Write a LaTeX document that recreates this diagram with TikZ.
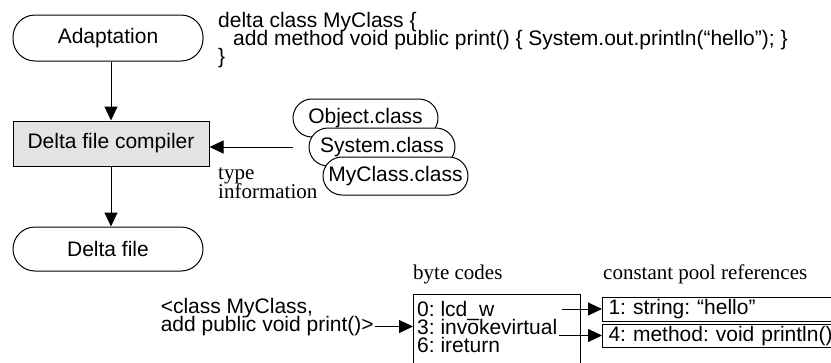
\documentclass[tikz,border=0pt]{standalone}
\usepackage{fontspec}
\setmainfont{Liberation Serif}
\setsansfont{Liberation Sans}
\usetikzlibrary{arrows.meta}
\begin{document}
\frenchspacing
\begin{tikzpicture}[x=1pt,y=-1pt,
  sf/.style={font=\sffamily\fontsize{21}{18}\selectfont\frenchspacing},
  rm/.style={font=\rmfamily\fontsize{21}{19}\selectfont\frenchspacing},
  lbl/.style={anchor=base west, inner sep=0pt},
  stadium/.style={draw, line width=1pt, rounded corners=22pt, minimum width=190pt, inner sep=0pt, sf},
  clsnode/.style={draw, line width=1pt, rounded corners=19pt, minimum height=38pt, inner sep=0pt, fill=white, sf},
  arr/.style={line width=1pt, -{Triangle[length=14pt,width=13pt]}},
  cpbox/.style={draw, line width=1pt, anchor=north west, text width=300pt, inner xsep=6pt, inner ysep=0pt, align=left, sf}
]
\path[use as bounding box] (0,0) rectangle (831,362);
\clip (0,0) rectangle (831,362);

% left flow
\node[stadium, minimum height=46pt] (adapt) at (108,38) {Adaptation};
\node[draw, line width=1pt, fill=black!11, minimum width=196pt, minimum height=45pt, inner sep=0pt, sf] (comp) at (111,143.5) {Delta file compiler};
\node[stadium, minimum height=44pt] (dfile) at (108,249) {Delta file};
\draw[arr] (adapt.south -| comp.north) -- (comp.north);
\draw[arr] (comp.south) -- (comp.south |- dfile.north);

% code
\node[lbl, sf] (code1) at (218,27) {delta class MyClass \{};
\node[lbl, sf] (code2) at (233,45) {add method void public print() \{ System.out.println(“hello”); \}};
\node[lbl, sf] (code3) at (218,63) {\}};

% class files
\node[clsnode, minimum width=145pt] (obj) at (365.5,118) {Object.class};
\node[clsnode, minimum width=146pt] (sys) at (382,147) {System.class};
\node[clsnode, minimum width=145pt] (mycl) at (395.5,176) {MyClass.class};
\coordinate (tsrc) at (293,147);
\draw[arr] (tsrc) -- (tsrc -| comp.east);
\node[lbl, rm] (ty1) at (218,179) {type};
\node[lbl, rm] (ty2) at (218,198) {information};

% byte codes
\node[lbl, rm] (bclbl) at (413,279) {byte codes};
\node[lbl, rm] (cplbl) at (603,279) {constant pool references};
\node[draw, line width=1pt, anchor=north west, minimum width=167pt, minimum height=72pt, inner sep=0pt] (bcbox) at (413,294) {};
\node[lbl, sf] (bc0) at (417,316) {0: lcd\_w};
\node[lbl, sf] (bc3) at (417,334) {3: invokevirtual};
\node[lbl, sf] (bc6) at (417,352) {6: ireturn};

\node[cpbox, minimum height=24pt] (cp1) at (602,297) {1: string: “hello”};
\node[cpbox, minimum height=23pt] (cp2) at (602,324) {4: method: void println()};
\coordinate (a1) at (562,309);
\draw[arr] (a1) -- (a1 -| cp1.west);
\coordinate (a2) at (559,335.5);
\draw[arr] (a2) -- (a2 -| cp2.west);

% input
\node[anchor=base east, inner sep=0pt, sf] (in2) at (374,331) {add public void print()>};
\node[lbl, sf] (in1) at (in2.base west |- 0,313) {<class MyClass,};
\draw[arr] ([xshift=1pt]in2.east |- bc3.west) -- (bcbox.west |- bc3.west);
\end{tikzpicture}
\end{document}
